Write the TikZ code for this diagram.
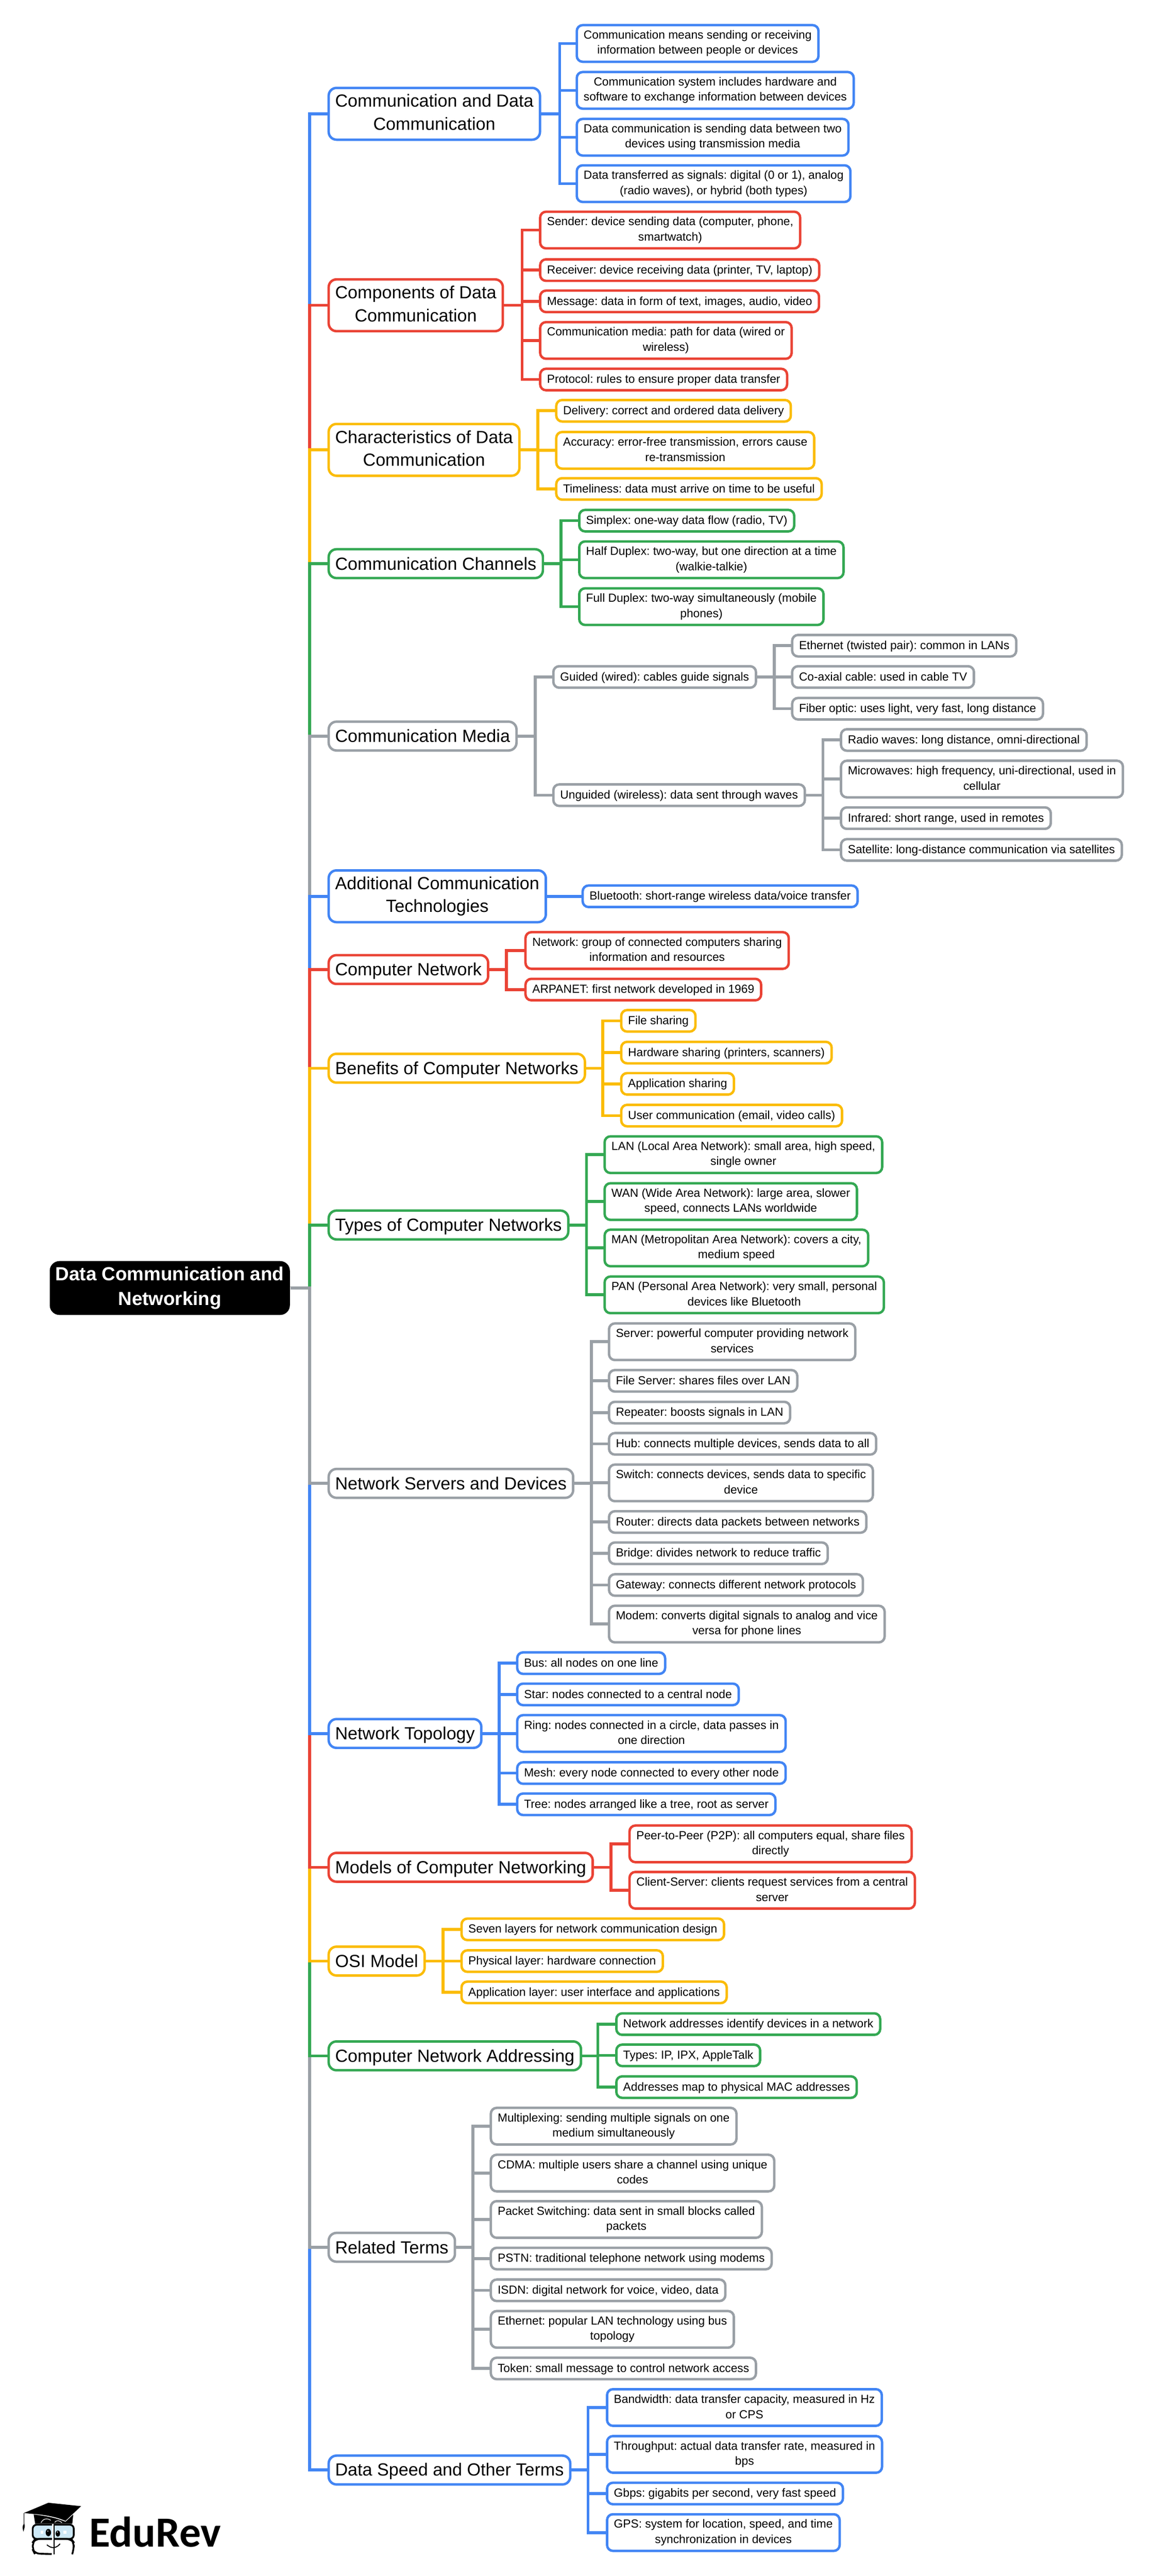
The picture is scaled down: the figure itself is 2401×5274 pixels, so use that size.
\documentclass[tikz,border=0pt]{standalone}
\usepackage{fontspec}
\setmainfont{Liberation Sans}
\newfontfamily\logofont{Carlito}
\usepackage{tikz}
\usetikzlibrary{positioning,shapes,arrows}

\definecolor{gblue}{HTML}{4285F4}
\definecolor{gred}{HTML}{EA4335}
\definecolor{gyellow}{HTML}{FBBC04}
\definecolor{ggreen}{HTML}{34A853}
\definecolor{ggray}{HTML}{9AA0A6}
\definecolor{glass}{HTML}{CDE8F6}

\newcommand{\leaffont}{\fontsize{6}{7.75}\selectfont\frenchspacing}
\newcommand{\catfont}{\fontsize{9}{11.75}\selectfont\frenchspacing}
\newcommand{\rootfont}{\fontsize{9.7}{12.5}\selectfont\bfseries\frenchspacing}

\tikzset{
  leaf/.style={draw=#1, line width=1.25pt, fill=white, rounded corners=3pt, align=center, anchor=west,
    font=\leaffont, inner xsep=3.5pt, inner ysep=1.5pt, outer sep=0pt, minimum height=11pt,
    execute at begin node={\rule[-1pt]{0pt}{6pt}}, execute at end node={\rule[-1pt]{0pt}{1pt}}},
  tall/.style={minimum height=18.75pt},
  cat/.style={draw=#1, line width=1.25pt, fill=white, rounded corners=4pt, align=center, anchor=west,
    font=\catfont, inner xsep=3.3pt, inner ysep=1.5pt, outer sep=0pt, minimum height=14.75pt,
    execute at begin node={\rule[-1.65pt]{0pt}{9.65pt}}, execute at end node={\rule[-1.65pt]{0pt}{1.65pt}}},
  taller/.style={minimum height=26.5pt},
  branch/.style={draw=#1, line width=1.5pt}
}

\begin{document}
\begin{tikzpicture}[x=0.25pt, y=-0.25pt]
  \useasboundingbox (0,0) rectangle (2401,5274);

  % Root and the first level
  \node (root) [fill=black, text=white, rounded corners=5pt, align=center, anchor=west, font=\rootfont,
    inner xsep=3pt, inner ysep=3pt, minimum height=27pt,
    execute at begin node={\rule[-2pt]{0pt}{10pt}}, execute at end node={\rule[-2pt]{0pt}{2pt}}] at (101,2637) {Data Communication and\\Networking};
  \coordinate (rt) at (634,2637);

  \node (c1) [cat=gblue, taller] at (673,233) {Communication and Data\\Communication};
  \node (c2) [cat=gred, taller] at (673,625) {Components of Data\\Communication};
  \node (c3) [cat=gyellow, taller] at (673,921) {Characteristics of Data\\Communication};
  \node (c4) [cat=ggreen] at (673,1154) {Communication Channels};
  \node (c5) [cat=ggray] at (673,1507) {Communication Media};
  \node (c6) [cat=gblue, taller] at (673,1835) {Additional Communication\\Technologies};
  \node (c7) [cat=gred] at (673,1985) {Computer Network};
  \node (c8) [cat=gyellow] at (673,2187) {Benefits of Computer Networks};
  \node (c9) [cat=ggreen] at (673,2508) {Types of Computer Networks};
  \node (c10) [cat=ggray] at (673,3037) {Network Servers and Devices};
  \node (c11) [cat=gblue] at (673,3549) {Network Topology};
  \node (c12) [cat=gred] at (673,3823) {Models of Computer Networking};
  \node (c13) [cat=gyellow] at (673,4015) {OSI Model};
  \node (c14) [cat=ggreen] at (673,4209) {Computer Network Addressing};
  \node (c15) [cat=ggray] at (673,4601) {Related Terms};
  \node (c16) [cat=gblue] at (673,5057) {Data Speed and Other Terms};

  % Communication and Data Communication
  \coordinate (t1) at (1146,233);
  \node (a1) [leaf=gblue, tall] at (1181,89) {Communication means sending or receiving\\information between people or devices};
  \node (a2) [leaf=gblue, tall] at (1181,185) {Communication system includes hardware and\\software to exchange information between devices};
  \node (a3) [leaf=gblue, tall] at (1181,281) {Data communication is sending data between two\\devices using transmission media};
  \node (a4) [leaf=gblue, tall] at (1181,376) {Data transferred as signals: digital (0 or 1), analog\\(radio waves), or hybrid (both types)};
  \draw[branch=gblue] (c1.east) -- (t1) |- (a1.west);
  \draw[branch=gblue] (c1.east) -- (t1) |- (a2.west);
  \draw[branch=gblue] (c1.east) -- (t1) |- (a3.west);
  \draw[branch=gblue] (c1.east) -- (t1) |- (a4.west);

  % Components of Data Communication
  \coordinate (t2) at (1069,625);
  \node (b1) [leaf=gred, tall] at (1106,471) {Sender: device sending data (computer, phone,\\smartwatch)};
  \node (b2) [leaf=gred] at (1106,553) {Receiver: device receiving data (printer, TV, laptop)};
  \node (b3) [leaf=gred] at (1106,617) {Message: data in form of text, images, audio, video};
  \node (b4) [leaf=gred, tall] at (1106,697) {Communication media: path for data (wired or\\wireless)};
  \node (b5) [leaf=gred] at (1106,777) {Protocol: rules to ensure proper data transfer};
  \draw[branch=gred] (c2.east) -- (t2) |- (b1.west);
  \draw[branch=gred] (c2.east) -- (t2) |- (b2.west);
  \draw[branch=gred] (c2.east) -- (t2) |- (b3.west);
  \draw[branch=gred] (c2.east) -- (t2) |- (b4.west);
  \draw[branch=gred] (c2.east) -- (t2) |- (b5.west);

  % Characteristics of Data Communication
  \coordinate (t3) at (1101,921);
  \node (d1) [leaf=gyellow] at (1139,841) {Delivery: correct and ordered data delivery};
  \node (d2) [leaf=gyellow, tall] at (1139,922) {Accuracy: error-free transmission, errors cause\\re-transmission};
  \node (d3) [leaf=gyellow] at (1139,1001) {Timeliness: data must arrive on time to be useful};
  \draw[branch=gyellow] (c3.east) -- (t3) |- (d1.west);
  \draw[branch=gyellow] (c3.east) -- (t3) |- (d2.west);
  \draw[branch=gyellow] (c3.east) -- (t3) |- (d3.west);

  % Communication Channels
  \coordinate (t4) at (1149,1154);
  \node (e1) [leaf=ggreen] at (1186,1066) {Simplex: one-way data flow (radio, TV)};
  \node (e2) [leaf=ggreen, tall] at (1186,1146) {Half Duplex: two-way, but one direction at a time\\(walkie-talkie)};
  \node (e3) [leaf=ggreen, tall] at (1186,1242) {Full Duplex: two-way simultaneously (mobile\\phones)};
  \draw[branch=ggreen] (c4.east) -- (t4) |- (e1.west);
  \draw[branch=ggreen] (c4.east) -- (t4) |- (e2.west);
  \draw[branch=ggreen] (c4.east) -- (t4) |- (e3.west);

  % Communication Media
  \coordinate (t5) at (1096,1507);
  \node (f1) [leaf=ggray] at (1133,1386) {Guided (wired): cables guide signals};
  \node (f2) [leaf=ggray] at (1133,1628) {Unguided (wireless): data sent through waves};
  \draw[branch=ggray] (c5.east) -- (t5) |- (f1.west);
  \draw[branch=ggray] (c5.east) -- (t5) |- (f2.west);

  \coordinate (t5a) at (1585,1386);
  \node (g1) [leaf=ggray] at (1622,1322) {Ethernet (twisted pair): common in LANs};
  \node (g2) [leaf=ggray] at (1622,1386) {Co-axial cable: used in cable TV};
  \node (g3) [leaf=ggray] at (1622,1451) {Fiber optic: uses light, very fast, long distance};
  \draw[branch=ggray] (f1.east) -- (t5a) |- (g1.west);
  \draw[branch=ggray] (f1.east) -- (t5a) |- (g2.west);
  \draw[branch=ggray] (f1.east) -- (t5a) |- (g3.west);

  \coordinate (t5b) at (1685,1628);
  \node (h1) [leaf=ggray] at (1722,1515) {Radio waves: long distance, omni-directional};
  \node (h2) [leaf=ggray, tall] at (1722,1595) {Microwaves: high frequency, uni-directional, used in\\cellular};
  \node (h3) [leaf=ggray] at (1722,1675) {Infrared: short range, used in remotes};
  \node (h4) [leaf=ggray] at (1722,1740) {Satellite: long-distance communication via satellites};
  \draw[branch=ggray] (f2.east) -- (t5b) |- (h1.west);
  \draw[branch=ggray] (f2.east) -- (t5b) |- (h2.west);
  \draw[branch=ggray] (f2.east) -- (t5b) |- (h3.west);
  \draw[branch=ggray] (f2.east) -- (t5b) |- (h4.west);

  % Additional Communication Technologies
  \node (i1) [leaf=gblue] at (1193,1835) {Bluetooth: short-range wireless data/voice transfer};
  \draw[branch=gblue] (c6.east) -- (i1.west);

  % Computer Network
  \coordinate (t7) at (1037,1985);
  \node (j1) [leaf=gred, tall] at (1076,1946) {Network: group of connected computers sharing\\information and resources};
  \node (j2) [leaf=gred] at (1076,2026) {ARPANET: first network developed in 1969};
  \draw[branch=gred] (c7.east) -- (t7) |- (j1.west);
  \draw[branch=gred] (c7.east) -- (t7) |- (j2.west);

  % Benefits of Computer Networks
  \coordinate (t8) at (1234,2187);
  \node (k1) [leaf=gyellow] at (1272,2090) {File sharing};
  \node (k2) [leaf=gyellow] at (1272,2155) {Hardware sharing (printers, scanners)};
  \node (k3) [leaf=gyellow] at (1272,2219) {Application sharing};
  \node (k4) [leaf=gyellow] at (1272,2284) {User communication (email, video calls)};
  \draw[branch=gyellow] (c8.east) -- (t8) |- (k1.west);
  \draw[branch=gyellow] (c8.east) -- (t8) |- (k2.west);
  \draw[branch=gyellow] (c8.east) -- (t8) |- (k3.west);
  \draw[branch=gyellow] (c8.east) -- (t8) |- (k4.west);

  % Types of Computer Networks
  \coordinate (t9) at (1201,2508);
  \node (l1) [leaf=ggreen, tall] at (1238,2364) {LAN (Local Area Network): small area, high speed,\\single owner};
  \node (l2) [leaf=ggreen, tall] at (1238,2460) {WAN (Wide Area Network): large area, slower\\speed, connects LANs worldwide};
  \node (l3) [leaf=ggreen, tall] at (1238,2555) {MAN (Metropolitan Area Network): covers a city,\\medium speed};
  \node (l4) [leaf=ggreen, tall] at (1238,2651) {PAN (Personal Area Network): very small, personal\\devices like Bluetooth};
  \draw[branch=ggreen] (c9.east) -- (t9) |- (l1.west);
  \draw[branch=ggreen] (c9.east) -- (t9) |- (l2.west);
  \draw[branch=ggreen] (c9.east) -- (t9) |- (l3.west);
  \draw[branch=ggreen] (c9.east) -- (t9) |- (l4.west);

  % Network Servers and Devices
  \coordinate (t10) at (1211,3037);
  \node (m1) [leaf=ggray, tall] at (1247,2747) {Server: powerful computer providing network\\services};
  \node (m2) [leaf=ggray] at (1247,2827) {File Server: shares files over LAN};
  \node (m3) [leaf=ggray] at (1247,2892) {Repeater: boosts signals in LAN};
  \node (m4) [leaf=ggray] at (1247,2956) {Hub: connects multiple devices, sends data to all};
  \node (m5) [leaf=ggray, tall] at (1247,3036) {Switch: connects devices, sends data to specific\\device};
  \node (m6) [leaf=ggray] at (1247,3116) {Router: directs data packets between networks};
  \node (m7) [leaf=ggray] at (1247,3180) {Bridge: divides network to reduce traffic};
  \node (m8) [leaf=ggray] at (1247,3245) {Gateway: connects different network protocols};
  \node (m9) [leaf=ggray, tall] at (1247,3325) {Modem: converts digital signals to analog and vice\\versa for phone lines};
  \draw[branch=ggray] (c10.east) -- (t10) |- (m1.west);
  \draw[branch=ggray] (c10.east) -- (t10) |- (m2.west);
  \draw[branch=ggray] (c10.east) -- (t10) |- (m3.west);
  \draw[branch=ggray] (c10.east) -- (t10) |- (m4.west);
  \draw[branch=ggray] (c10.east) -- (t10) |- (m5.west);
  \draw[branch=ggray] (c10.east) -- (t10) |- (m6.west);
  \draw[branch=ggray] (c10.east) -- (t10) |- (m7.west);
  \draw[branch=ggray] (c10.east) -- (t10) |- (m8.west);
  \draw[branch=ggray] (c10.east) -- (t10) |- (m9.west);

  % Network Topology
  \coordinate (t11) at (1022,3549);
  \node (n1) [leaf=gblue] at (1059,3405) {Bus: all nodes on one line};
  \node (n2) [leaf=gblue] at (1059,3469) {Star: nodes connected to a central node};
  \node (n3) [leaf=gblue, tall] at (1059,3549) {Ring: nodes connected in a circle, data passes in\\one direction};
  \node (n4) [leaf=gblue] at (1059,3630) {Mesh: every node connected to every other node};
  \node (n5) [leaf=gblue] at (1059,3694) {Tree: nodes arranged like a tree, root as server};
  \draw[branch=gblue] (c11.east) -- (t11) |- (n1.west);
  \draw[branch=gblue] (c11.east) -- (t11) |- (n2.west);
  \draw[branch=gblue] (c11.east) -- (t11) |- (n3.west);
  \draw[branch=gblue] (c11.east) -- (t11) |- (n4.west);
  \draw[branch=gblue] (c11.east) -- (t11) |- (n5.west);

  % Models of Computer Networking
  \coordinate (t12) at (1251,3823);
  \node (o1) [leaf=gred, tall] at (1289,3775) {Peer-to-Peer (P2P): all computers equal, share files\\directly};
  \node (o2) [leaf=gred, tall] at (1289,3870) {Client-Server: clients request services from a central\\server};
  \draw[branch=gred] (c12.east) -- (t12) |- (o1.west);
  \draw[branch=gred] (c12.east) -- (t12) |- (o2.west);

  % OSI Model
  \coordinate (t13) at (907,4015);
  \node (p1) [leaf=gyellow] at (945,3950) {Seven layers for network communication design};
  \node (p2) [leaf=gyellow] at (945,4015) {Physical layer: hardware connection};
  \node (p3) [leaf=gyellow] at (945,4079) {Application layer: user interface and applications};
  \draw[branch=gyellow] (c13.east) -- (t13) |- (p1.west);
  \draw[branch=gyellow] (c13.east) -- (t13) |- (p2.west);
  \draw[branch=gyellow] (c13.east) -- (t13) |- (p3.west);

  % Computer Network Addressing
  \coordinate (t14) at (1224,4209);
  \node (q1) [leaf=ggreen] at (1262,4144) {Network addresses identify devices in a network};
  \node (q2) [leaf=ggreen] at (1262,4208) {Types: IP, IPX, AppleTalk};
  \node (q3) [leaf=ggreen] at (1262,4273) {Addresses map to physical MAC addresses};
  \draw[branch=ggreen] (c14.east) -- (t14) |- (q1.west);
  \draw[branch=ggreen] (c14.east) -- (t14) |- (q2.west);
  \draw[branch=ggreen] (c14.east) -- (t14) |- (q3.west);

  % Related Terms
  \coordinate (t15) at (968,4601);
  \node (r1) [leaf=ggray, tall] at (1005,4353) {Multiplexing: sending multiple signals on one\\medium simultaneously};
  \node (r2) [leaf=ggray, tall] at (1005,4449) {CDMA: multiple users share a channel using unique\\codes};
  \node (r3) [leaf=ggray, tall] at (1005,4544) {Packet Switching: data sent in small blocks called\\packets};
  \node (r4) [leaf=ggray] at (1005,4624) {PSTN: traditional telephone network using modems};
  \node (r5) [leaf=ggray] at (1005,4689) {ISDN: digital network for voice, video, data};
  \node (r6) [leaf=ggray, tall] at (1005,4769) {Ethernet: popular LAN technology using bus\\topology};
  \node (r7) [leaf=ggray] at (1005,4849) {Token: small message to control network access};
  \draw[branch=ggray] (c15.east) -- (t15) |- (r1.west);
  \draw[branch=ggray] (c15.east) -- (t15) |- (r2.west);
  \draw[branch=ggray] (c15.east) -- (t15) |- (r3.west);
  \draw[branch=ggray] (c15.east) -- (t15) |- (r4.west);
  \draw[branch=ggray] (c15.east) -- (t15) |- (r5.west);
  \draw[branch=ggray] (c15.east) -- (t15) |- (r6.west);
  \draw[branch=ggray] (c15.east) -- (t15) |- (r7.west);

  % Data Speed and Other Terms
  \coordinate (t16) at (1204,5057);
  \node (s1) [leaf=gblue, tall] at (1243,4929) {Bandwidth: data transfer capacity, measured in Hz\\or CPS};
  \node (s2) [leaf=gblue, tall] at (1243,5025) {Throughput: actual data transfer rate, measured in\\bps};
  \node (s3) [leaf=gblue] at (1243,5105) {Gbps: gigabits per second, very fast speed};
  \node (s4) [leaf=gblue, tall] at (1243,5185) {GPS: system for location, speed, and time\\synchronization in devices};
  \draw[branch=gblue] (c16.east) -- (t16) |- (s1.west);
  \draw[branch=gblue] (c16.east) -- (t16) |- (s2.west);
  \draw[branch=gblue] (c16.east) -- (t16) |- (s3.west);
  \draw[branch=gblue] (c16.east) -- (t16) |- (s4.west);

  % Main trunk, farthest branch first so the nearer colour lies on top
  \draw[branch=gblue] (root.east) -- (rt) |- (c1.west);
  \draw[branch=gred] (root.east) -- (rt) |- (c2.west);
  \draw[branch=gyellow] (root.east) -- (rt) |- (c3.west);
  \draw[branch=ggreen] (root.east) -- (rt) |- (c4.west);
  \draw[branch=ggray] (root.east) -- (rt) |- (c5.west);
  \draw[branch=gblue] (root.east) -- (rt) |- (c6.west);
  \draw[branch=gred] (root.east) -- (rt) |- (c7.west);
  \draw[branch=gyellow] (root.east) -- (rt) |- (c8.west);
  \draw[branch=ggreen] (root.east) -- (rt) |- (c9.west);
  \draw[branch=gblue] (root.east) -- (rt) |- (c16.west);
  \draw[branch=ggray] (root.east) -- (rt) |- (c15.west);
  \draw[branch=ggreen] (root.east) -- (rt) |- (c14.west);
  \draw[branch=gyellow] (root.east) -- (rt) |- (c13.west);
  \draw[branch=gred] (root.east) -- (rt) |- (c12.west);
  \draw[branch=gblue] (root.east) -- (rt) |- (c11.west);
  \draw[branch=ggray] (root.east) -- (rt) |- (c10.west);

  % Logo
  \node (logo) [anchor=west, inner sep=0pt, font={\logofont\bfseries\fontsize{22}{24}\selectfont}] at (182,5184) {EduRev};
  \fill (49,5145) -- (99,5124) -- (166,5131) -- (134,5161) .. controls (115,5153) and (95,5149) .. (69,5147) -- cycle;
  \fill (69,5148) -- (72,5167) -- (148,5167) -- (150,5148) -- (134,5163) .. controls (115,5155) and (95,5151) .. (69,5148) -- cycle;
  \draw[line width=0.3pt] (49.5,5145) -- (49.5,5168);
  \fill (49.5,5166) .. controls (45,5172) and (46,5176) .. (48,5183) .. controls (50,5176) and (52,5172) .. (49.5,5166) -- cycle;
  \draw[white, line width=0.3pt] (84,5165) .. controls (88,5156) and (97,5155) .. (104,5160);
  \draw[white, line width=0.3pt] (112,5164) .. controls (116,5159) and (122,5160) .. (127,5165);
  \draw[line width=0.9pt, fill=glass, rounded corners=2pt] (67,5169) rectangle (151,5198);
  \draw[line width=0.9pt, rounded corners=2.5pt] (106,5229) -- (71,5228) -- (67,5220) -- (67,5205) -- (72,5198) -- (146,5198) -- (151,5205) -- (151,5220) -- (148,5229);
  \draw[white, line width=0.8pt] (108.5,5167) -- (108.5,5230);
  \draw[line width=0.5pt] (110.5,5167) -- (110.5,5230);
  \fill (99,5185) ellipse [x radius=5.5, y radius=7.5];
  \fill (118.5,5187) ellipse [x radius=4.5, y radius=6.5];
  \fill[white] (98,5182) circle [radius=1.2];
  \fill[white] (117.5,5184) circle [radius=1.2];
  \fill[white] (83,5181) rectangle (89,5187);
  \fill[white] (130,5181) rectangle (136,5187);
  \draw[line width=0.5pt] (96,5210) .. controls (105,5218) and (115,5218) .. (123,5208);
\end{tikzpicture}
\end{document}
